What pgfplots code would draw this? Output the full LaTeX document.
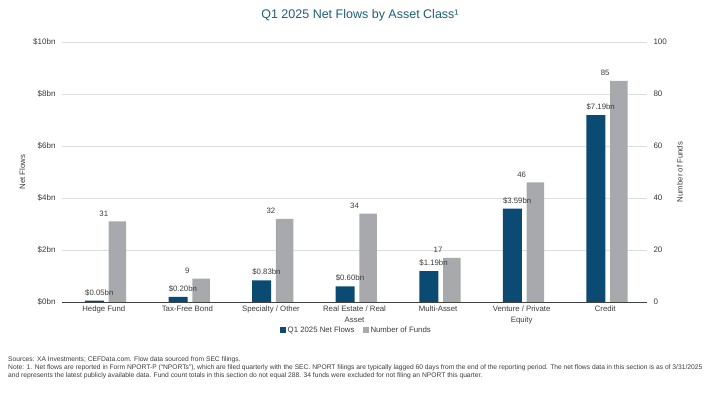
\documentclass[border=0pt]{standalone}
\usepackage{pgfplots}
\pgfplotsset{compat=1.18}
\usepackage{fontspec}
\setmainfont{Liberation Sans}
\definecolor{navy}{HTML}{0B4A72}
\definecolor{barg}{HTML}{A7A9AC}
\definecolor{ttl}{HTML}{1D5F78}
\definecolor{gridc}{HTML}{DDDDDD}
\definecolor{txt}{HTML}{3A3A3A}
\definecolor{axc}{HTML}{404040}
\begin{document}
\begin{tikzpicture}
\path (-62pt,-94pt) rectangle (649pt,302pt);
\node[font=\fontsize{12.5}{14}\selectfont, text=ttl] at (298pt,287pt) {Q1 2025 Net Flows by Asset Class¹};
% funds axis (drawn first, holds grid and grey bars)
\begin{axis}[
  scale only axis,
  width=585pt, height=260pt,
  xmin=-0.5, xmax=6.5, ymin=0, ymax=100,
  axis line style={draw=none}, major tick length=0pt,
  axis y line*=right,
  xtick=\empty,
  ytick={0,20,40,60,80,100},
  ymajorgrids, grid style={gridc, line width=0.6pt},
  /pgf/number format/assume math mode=true,
  yticklabel style={font=\fontsize{8}{9}\selectfont, text=txt, xshift=3pt},
  ylabel={Number of Funds},
  ylabel style={at={(axis description cs:1.056,0.5)}, anchor=center, rotate=0, font=\fontsize{7.8}{9}\selectfont, text=txt},
  clip=false,
]
\addplot[ybar, bar width=17.5pt, bar shift=13.7pt, fill=barg, draw=none,
  nodes near coords, nodes near coords align={vertical},
  every node near coord/.append style={font=\fontsize{7.8}{9}\selectfont, text=txt, anchor=south, yshift=1.5pt}]
  coordinates {(0,31) (1,9) (2,32) (3,34) (4,17) (5,46) (6,85)};
\end{axis}
% net flows axis
\begin{axis}[
  scale only axis,
  width=585pt, height=260pt,
  xmin=-0.5, xmax=6.5, ymin=0, ymax=10,
  axis line style={draw=none}, major tick length=0pt,
  ytick={0,2,4,6,8,10},
  /pgf/number format/assume math mode=true,
  yticklabel={\$\pgfmathprintnumber{\tick}bn},
  yticklabel style={font=\fontsize{8}{9}\selectfont, text=txt, xshift=-3pt},
  xtick={0,1,2,3,4,5,6},
  xticklabels={Hedge Fund, Tax-Free Bond, Specialty / Other, {Real Estate / Real\\Asset}, Multi-Asset, {Venture / Private\\Equity}, Credit},
  xticklabel style={font=\fontsize{7.8}{11}\selectfont, text=txt, align=center, yshift=-0.5pt},
  ylabel={Net Flows},
  ylabel style={at={(axis description cs:-0.068,0.5)}, anchor=center, font=\fontsize{7.8}{9}\selectfont, text=txt},
  legend style={at={(0.503,-0.108)}, anchor=center, draw=none, fill=none,
    legend columns=2, font=\fontsize{7.8}{9}\selectfont, text=txt,
    /tikz/every even column/.append style={column sep=6pt}},
  legend image code/.code={\fill (0pt,-3pt) rectangle (6pt,3pt);},
  clip=false,
]
\addplot[ybar, bar width=19pt, bar shift=-9.3pt, fill=navy, draw=none,
  nodes near coords={\$\pgfmathprintnumber[fixed,fixed zerofill,precision=2]{\pgfplotspointmeta}bn},
  nodes near coords align={vertical},
  every node near coord/.append style={font=\fontsize{7.8}{9}\selectfont, text=txt, anchor=south, yshift=1.5pt, xshift=-4.5pt}]
  coordinates {(0,0.05) (1,0.20) (2,0.83) (3,0.60) (4,1.19) (5,3.59) (6,7.19)};
\addlegendentry{Q1 2025 Net Flows}
\addlegendimage{fill=barg, draw=none}
\addlegendentry{Number of Funds}
\draw[axc, line width=0.9pt] (axis cs:-0.5,0) -- (axis cs:6.5,0);
\end{axis}
\node[anchor=north west, align=left, font=\fontsize{6.7}{8}\selectfont, text=txt, inner sep=0pt] at (-54pt,-54.5pt) {Sources: XA Investments; CEFData.com. Flow data sourced from SEC filings.\\
Note: 1. Net flows are reported in Form NPORT-P (“NPORTs”), which are filed quarterly with the SEC. NPORT filings are typically lagged 60 days from the end of the reporting period. The net flows data in this section is as of 3/31/2025\\
and represents the latest publicly available data. Fund count totals in this section do not equal 288. 34 funds were excluded for not filing an NPORT this quarter.};
\end{tikzpicture}
\end{document}
